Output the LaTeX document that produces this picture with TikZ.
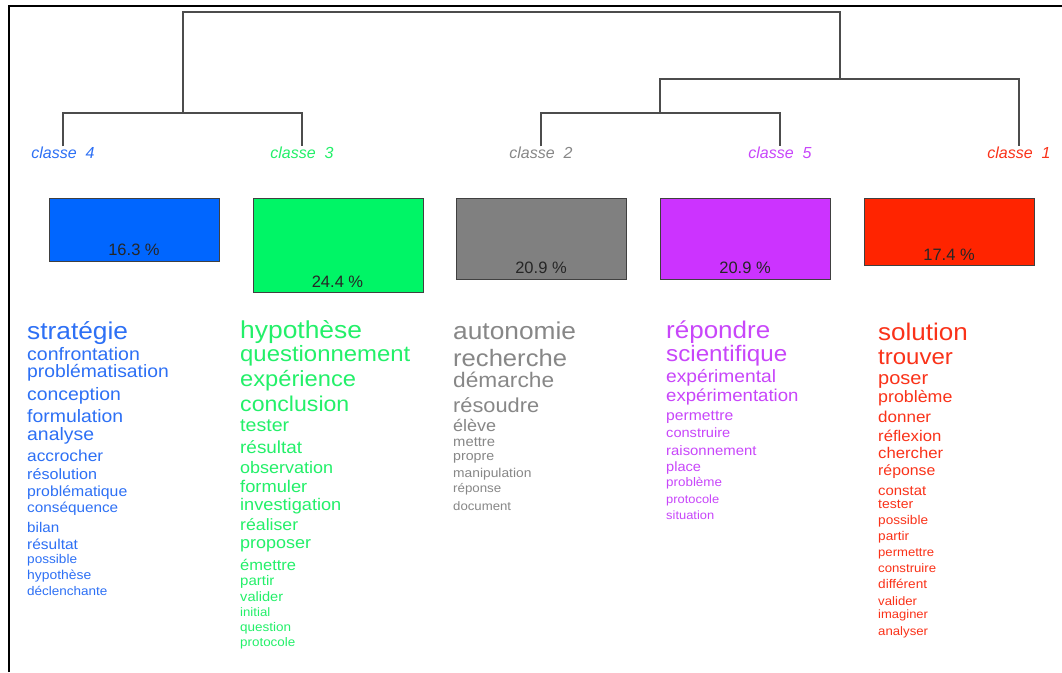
\documentclass[tikz,border=0pt]{standalone}
\usepackage{fontspec}
\setmainfont{Liberation Sans}
\newfontfamily\widefont[FakeStretch=1.08]{Liberation Sans}
\definecolor{cfour}{RGB}{45,112,245}
\definecolor{cthree}{RGB}{35,240,105}
\definecolor{ctwo}{RGB}{135,135,135}
\definecolor{cfive}{RGB}{200,70,250}
\definecolor{cone}{RGB}{250,50,25}
\definecolor{bfour}{RGB}{0,102,255}
\definecolor{bthree}{RGB}{0,245,102}
\definecolor{btwo}{RGB}{128,128,128}
\definecolor{bfive}{RGB}{204,51,255}
\definecolor{bone}{RGB}{255,36,0}
\tikzset{
  word/.style={anchor=base west, inner sep=0pt},
  clabel/.style={font=\fontsize{16}{16}\itshape, inner sep=0pt, text height=11.5pt, text depth=3.2pt},
  clbox/.style={draw=black!75, line width=0.9pt, anchor=north west, inner sep=0pt, minimum width=170pt},
  pct/.style={font=\fontsize{16.5}{16.5}\selectfont, text=black!85, inner sep=0pt},
  dendro/.style={draw=black!70, line width=1.3pt},
}
\newcommand\wordcol[4]{%
  \foreach \yy/\ss/\ww [count=\i] in {#4} {
    \pgfmathsetmacro\fs{\ss/1.08}
    \node[word, text=#3, font=\widefont\fontsize{\fs}{\fs}\selectfont] (#1-\i) at (#2,{\yy+0.3*\fs}) {\ww};
  }}
\begin{document}
\begin{tikzpicture}[x=1pt,y=-1pt]
\useasboundingbox[fill=white] (0,0) rectangle (1062,672);
% frame
\draw[line width=2pt] (9.3,672) -- (9.3,6) -- (1062,6);
% class labels
\node[clabel, text=cfour]  (l4) at (63,154)   {classe\ \ 4};
\node[clabel, text=cthree] (l3) at (302,154)  {classe\ \ 3};
\node[clabel, text=ctwo]   (l2) at (541,154)  {classe\ \ 2};
\node[clabel, text=cfive]  (l5) at (780,154)  {classe\ \ 5};
\node[clabel, text=cone]   (l1) at (1019,154) {classe\ \ 1};
% dendrogram
\coordinate (j43) at (183,113);
\coordinate (j25) at (660,113);
\coordinate (j251) at (840,79);
\coordinate (jroot) at (511,12);
\draw[dendro] (l4.north) |- (j43) -| (l3.north);
\draw[dendro] (l2.north) |- (j25) -| (l5.north);
\draw[dendro] (j25) |- (j251) -| (l1.north);
\draw[dendro] (j43) |- (jroot) -| (j251);
% boxes
\node[clbox, fill=bfour,  minimum height=63pt] (b4) at (49,198) {};
\node[clbox, fill=bthree, minimum height=94pt] (b3) at (252.5,198) {};
\node[clbox, fill=btwo,   minimum height=81pt] (b2) at (456,198) {};
\node[clbox, fill=bfive,  minimum height=81pt] (b5) at (660,198) {};
\node[clbox, fill=bone,   minimum height=67pt] (b1) at (864,198) {};
\node[pct] (p4) at (134,250)   {16.3 \%};
\node[pct] (p3) at (337.5,282) {24.4 \%};
\node[pct] (p2) at (541,268)   {20.9 \%};
\node[pct] (p5) at (745,268)   {20.9 \%};
\node[pct] (p1) at (949,255)   {17.4 \%};
% word lists
\wordcol{w4}{27}{cfour}{332/26.3/stratégie, 355/19.5/confrontation, 372/19.3/problématisation, 395/19.4/conception, 417/19.4/formulation, 435/19.4/analyse, 457/17.3/accrocher, 475/16.1/résolution, 492/15.8/problématique, 508/15.3/conséquence, 528/15.2/bilan, 545/15.5/résultat, 560/13.6/possible, 576/13.9/hypothèse, 592/13.5/déclenchante}
\wordcol{w3}{240}{cthree}{331/26.4/hypothèse, 355/23.9/questionnement, 380/23.7/expérience, 405/23.1/conclusion, 426/19.6/tester, 448/18.9/résultat, 468/18/observation, 487/18.3/formuler, 505/18.2/investigation, 526/17.7/réaliser, 543/18/proposer, 566/16.5/émettre, 581/15/partir, 597/14.6/valider, 613/13.2/initial, 628/13.5/question, 643/13.4/protocole}
\wordcol{w2}{453}{ctwo}{332/26.3/autonomie, 359/25.6/recherche, 381/22.7/démarche, 406/21.8/résoudre, 426/18/élève, 442/14.8/mettre, 457/14.2/propre, 474/13.8/manipulation, 489/13.3/réponse, 507/13.2/document}
\wordcol{w5}{666}{cfive}{331/26/répondre, 355/24.2/scientifique, 377/19.2/expérimental, 396/18.6/expérimentation, 416/15.7/permettre, 433/14.6/construire, 451/14.9/raisonnement, 467/14.6/place, 483/13.4/problème, 500/12.9/protocole, 516/12.9/situation}
\wordcol{w1}{878}{cone}{333/26/solution, 357.5/24/trouver, 378.5/20/poser, 398/17.8/problème, 418/17/donner, 437/16.7/réflexion, 454/16.7/chercher, 471/15.8/réponse, 491/14.9/constat, 505/14/tester, 521/13.6/possible, 537/13.6/partir, 553/13.1/permettre, 569/13.2/construire, 585/13.6/différent, 602/13.2/valider, 615/13/imaginer, 632/13.2/analyser}
\end{tikzpicture}
\end{document}
